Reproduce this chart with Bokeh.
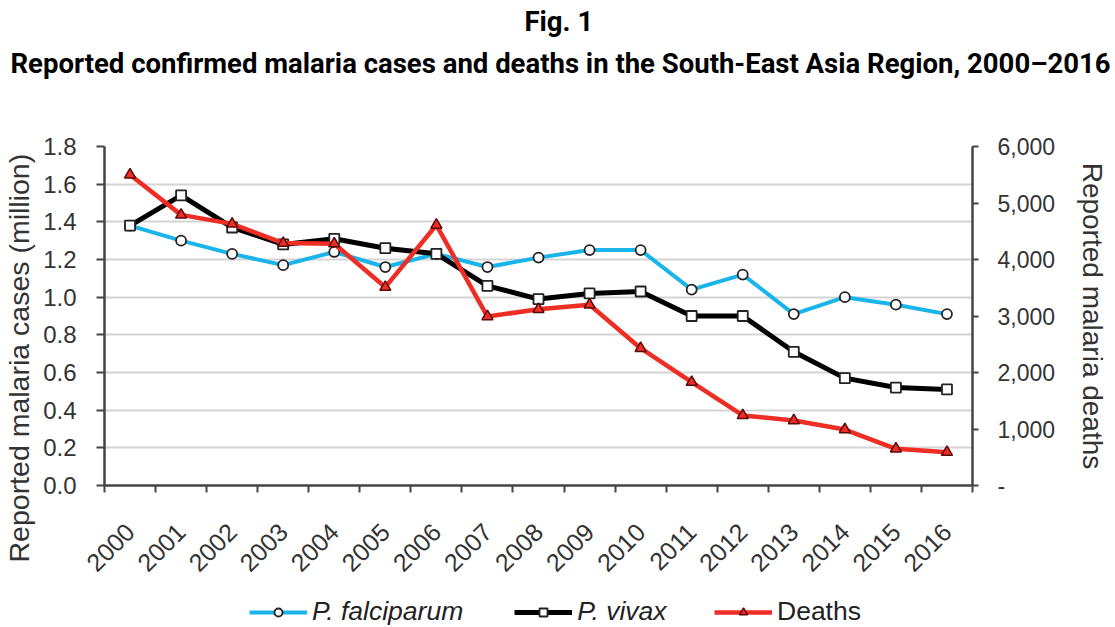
from math import pi
from bokeh.plotting import figure
from bokeh.layouts import column
from bokeh.models import (Range1d, LinearAxis, FixedTicker, NumeralTickFormatter,
                          PrintfTickFormatter, Legend, LegendItem, Title)
from bokeh.embed import file_html
from bokeh.resources import INLINE

years = list(range(2000, 2017))
falciparum = [1.38, 1.30, 1.23, 1.17, 1.24, 1.16, 1.23, 1.16, 1.21, 1.25, 1.25, 1.04, 1.12, 0.91, 1.00, 0.96, 0.91]
vivax = [1.38, 1.54, 1.37, 1.28, 1.31, 1.26, 1.23, 1.06, 0.99, 1.02, 1.03, 0.90, 0.90, 0.71, 0.57, 0.52, 0.51]
deaths = [5500, 4790, 4630, 4290, 4280, 3510, 4610, 2990, 3120, 3200, 2430, 1830, 1240, 1150, 990, 650, 590]
left_ticks = [0.0, 0.2, 0.4, 0.6, 0.8, 1.0, 1.2, 1.4, 1.6, 1.8]
right_ticks = [0, 1000, 2000, 3000, 4000, 5000, 6000]
year_labels = [str(y) for y in years]

BLUE = "#19b4ea"
BLACK = "#000000"
RED = "#ee2d24"
TXT = "#333333"
AXC = "#444444"
FONT = "Liberation Sans"

p = figure(width=1115, height=583, output_backend="svg", toolbar_location=None, tools="",
           x_range=Range1d(1999.5, 2016.5), y_range=Range1d(0, 1.8),
           min_border_left=103, min_border_right=143, min_border_top=146, min_border_bottom=98,
           x_axis_location=None, y_axis_location=None)
p.outline_line_color = None
p.extra_y_ranges = {"deaths": Range1d(0, 6000)}

# invisible spacer between the plot and the titles
top_gap = LinearAxis(ticker=FixedTicker(ticks=[2008]), axis_line_color=None,
                     major_tick_out=61, major_tick_in=0, major_tick_line_color=None,
                     major_label_standoff=0, major_label_text_font_size="1px",
                     major_label_overrides={2008: ""}, minor_tick_line_color=None)
p.add_layout(top_gap, "above")

# titles
t2 = Title(text="Reported confirmed malaria cases and deaths in the South-East Asia Region, 2000\u20132016",
           align="left", offset=-94, text_font="Roboto", text_font_style="bold",
           text_font_size="27.5px", text_color="#000000", standoff=12)
p.add_layout(t2, "above")
t1 = Title(text="Fig. 1", align="left", offset=420, text_font="Roboto", text_font_style="bold",
           text_font_size="27.5px", text_color="#000000", standoff=2)
p.add_layout(t1, "above")

# x axis
xax = LinearAxis(ticker=FixedTicker(ticks=years, minor_ticks=[y - 0.5 for y in years] + [2016.5]),
                 major_label_overrides={y: s for y, s in zip(years, year_labels)})
xax.major_label_orientation = pi / 4
xax.major_tick_out = 0
xax.major_tick_in = 0
xax.minor_tick_out = 7
xax.minor_tick_in = 0
xax.minor_tick_line_color = AXC
xax.minor_tick_line_width = 2
xax.axis_line_color = AXC
xax.axis_line_width = 2.5
xax.major_label_standoff = 35
xax.major_label_text_font = FONT
xax.major_label_text_font_size = "25px"
xax.major_label_text_color = TXT
p.add_layout(xax, "below")

# left axis
lax = LinearAxis(ticker=FixedTicker(ticks=left_ticks), formatter=PrintfTickFormatter(format="%.1f"))
lax.major_tick_out = 8
lax.major_tick_in = 0
lax.minor_tick_line_color = None
lax.axis_line_color = AXC
lax.axis_line_width = 2.5
lax.major_tick_line_color = AXC
lax.major_tick_line_width = 2
lax.major_label_standoff = 20
lax.major_label_text_font = FONT
lax.major_label_text_font_size = "24px"
lax.major_label_text_color = TXT
p.add_layout(lax, "left")

# invisible spacer between the tick labels and the left title
left_gap = LinearAxis(ticker=FixedTicker(ticks=[0.9]), axis_line_color=None,
                      major_tick_out=6, major_tick_in=0, major_tick_line_color=None,
                      major_label_standoff=0, major_label_text_font_size="1px",
                      major_label_overrides={0.9: ""}, minor_tick_line_color=None)
p.add_layout(left_gap, "left")

ytitle = Title(text="Reported malaria cases (million)", align="left", offset=-77,
               text_font=FONT, text_font_style="normal", text_font_size="28.5px",
               text_color=TXT, standoff=0)
p.add_layout(ytitle, "left")

# right axis
rax = LinearAxis(y_range_name="deaths", ticker=FixedTicker(ticks=right_ticks),
                 formatter=NumeralTickFormatter(format="0,0"),
                 major_label_overrides={0: "-"})
rax.axis_label = "Reported malaria deaths"
rax.axis_label_text_font = FONT
rax.axis_label_text_font_size = "28px"
rax.axis_label_text_font_style = "normal"
rax.axis_label_text_color = TXT
rax.axis_label_standoff = 19
rax.major_tick_out = 6
rax.major_tick_in = 0
rax.minor_tick_line_color = None
rax.axis_line_color = AXC
rax.axis_line_width = 2.5
rax.major_tick_line_color = AXC
rax.major_tick_line_width = 2
rax.major_label_standoff = 19
rax.major_label_text_font = FONT
rax.major_label_text_font_size = "23px"
rax.major_label_text_color = TXT
p.add_layout(rax, "right")

# grid
p.xgrid.grid_line_color = None
p.ygrid.ticker = FixedTicker(ticks=left_ticks)
p.ygrid.grid_line_color = "#d4d4d4"
p.ygrid.grid_line_width = 2

# series
p.line(years, falciparum, line_color=BLUE, line_width=4)
p.scatter(years, falciparum, marker="circle", size=10, fill_color="white",
          line_color="#222222", line_width=1.8)
p.line(years, vivax, line_color=BLACK, line_width=5)
p.scatter(years, vivax, marker="square", size=10, fill_color="white",
          line_color="#222222", line_width=1.8)
p.line(years, deaths, line_color=RED, line_width=4.5, y_range_name="deaths")
p.scatter(years, deaths, marker="triangle", size=11, fill_color=RED,
          line_color="#5a0a0a", line_width=1.5, y_range_name="deaths")

# legend strip (sample glyphs sit outside the visible range; only the legend shows)
q = figure(width=1115, height=44, output_backend="svg", toolbar_location=None, tools="",
           x_range=Range1d(0, 1), y_range=Range1d(0, 1),
           min_border_left=0, min_border_right=0, min_border_top=0, min_border_bottom=0,
           x_axis_location=None, y_axis_location=None)
q.outline_line_color = None
q.xgrid.grid_line_color = None
q.ygrid.grid_line_color = None
hx, hy = [-5, -4], [-5, -4]
lf = q.line(hx, hy, line_color=BLUE, line_width=4)
sf = q.scatter(hx, hy, marker="circle", size=9, fill_color="white", line_color="#222222", line_width=1.8)
lv = q.line(hx, hy, line_color=BLACK, line_width=5)
sv = q.scatter(hx, hy, marker="square", size=9, fill_color="white", line_color="#222222", line_width=1.8)
ld = q.line(hx, hy, line_color=RED, line_width=4.5)
sd = q.scatter(hx, hy, marker="triangle", size=10, fill_color=RED, line_color="#5a0a0a", line_width=1.5)

leg1 = Legend(items=[LegendItem(label="P. falciparum", renderers=[lf, sf]),
                     LegendItem(label="P. vivax", renderers=[lv, sv])],
              location=(145, 0), orientation="horizontal")
leg2 = Legend(items=[LegendItem(label="Deaths", renderers=[ld, sd])],
              location=(610, 0), orientation="horizontal")
for lg, style in ((leg1, "italic"), (leg2, "normal")):
    lg.label_text_font = FONT
    lg.label_text_font_style = style
    lg.label_text_font_size = "26.5px"
    lg.label_text_color = "#222222"
    lg.glyph_width = 58
    lg.glyph_height = 20
    lg.label_standoff = 5
    lg.spacing = 51
    lg.padding = 0
    lg.margin = 0
    lg.border_line_color = None
    lg.background_fill_alpha = 0
    q.add_layout(lg, "center")

layout = column(p, q, spacing=0)
open("out.html", "w").write(file_html(layout, INLINE))
